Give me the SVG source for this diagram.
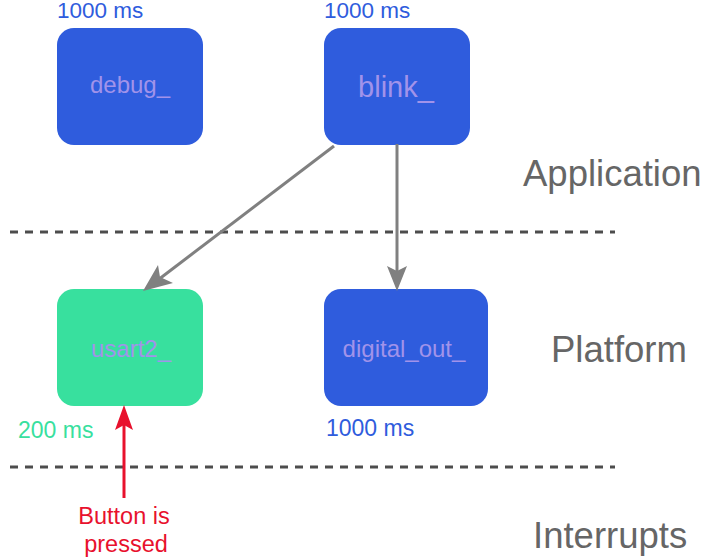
<svg xmlns="http://www.w3.org/2000/svg" width="703" height="559" viewBox="0 0 703 559">
<style>
text{font-family:"Liberation Sans",Arial,sans-serif}
.blue{fill:#2f5cdd}
.green{fill:#38e09e}
.nl{fill:#a193ea;text-anchor:middle;font-size:24px}
.ms{font-size:23px}
.layer{fill:#666;font-size:36.5px}
.dash{stroke:#4d4d4d;stroke-width:3;stroke-dasharray:8 7;fill:none}
.conn{stroke:#808080;stroke-width:3;fill:none}
.head{fill:#808080}
</style>
<g id="separators">
<line class="dash" x1="10" y1="232" x2="615" y2="232"/>
<line class="dash" x1="10" y1="467" x2="615" y2="467"/>
</g>
<g id="layer-labels">
<text class="layer" x="523" y="186">Application</text>
<text class="layer" x="551" y="362">Platform</text>
<text class="layer" x="533" y="548">Interrupts</text>
</g>
<g id="debug">
<rect class="blue" x="57" y="28" width="146" height="117" rx="17"/>
<text class="nl" x="130" y="93">debug_</text>
<text class="ms" x="57" y="18" fill="#2f5cdd" style="font-size:22.5px">1000 ms</text>
</g>
<g id="blink">
<rect class="blue" x="324" y="28" width="146" height="117" rx="17"/>
<text class="nl" x="396" y="97" style="font-size:29px">blink_</text>
<text class="ms" x="324" y="18" fill="#2f5cdd" style="font-size:22.5px">1000 ms</text>
</g>
<g id="usart2">
<rect class="green" x="57" y="289" width="146" height="117" rx="17"/>
<text class="nl" x="131" y="357">usart2_</text>
<text class="ms" x="18" y="438" fill="#38e09e">200 ms</text>
</g>
<g id="digital_out">
<rect class="blue" x="324" y="289" width="164" height="117" rx="17"/>
<text class="nl" x="404" y="357">digital_out_</text>
<text class="ms" x="326" y="436" fill="#2f5cdd">1000 ms</text>
</g>
<g id="button">
<text x="124" y="524" fill="#e8112d" font-size="23.5" text-anchor="middle">Button is</text>
<text x="126" y="552" fill="#e8112d" font-size="23.5" text-anchor="middle">pressed</text>
</g>
<g id="connectors">
<line class="conn" x1="334" y1="146" x2="150" y2="286"/>
<path class="head" d="M143,291 L158,265 L160,277 L173,283 Z"/>
<line class="conn" x1="397" y1="144" x2="397" y2="280"/>
<path class="head" d="M397,291 L387,266 L397,271 L407,266 Z"/>
<line x1="124" y1="498" x2="124" y2="420" stroke="#e8112d" stroke-width="3"/>
<path d="M124,405 L133,430 L124,425 L115,430 Z" fill="#e8112d"/>
</g>
</svg>
